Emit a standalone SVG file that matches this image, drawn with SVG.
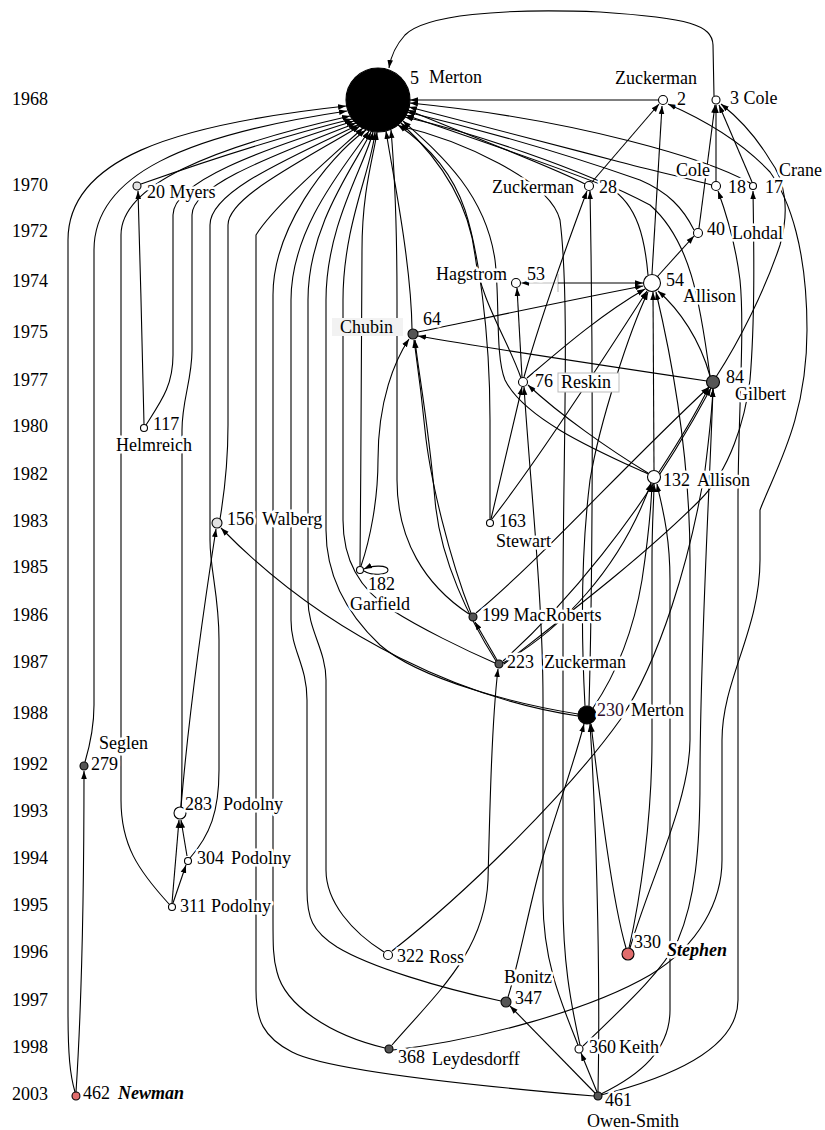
<svg xmlns="http://www.w3.org/2000/svg" width="825" height="1130" viewBox="0 0 825 1130">
<defs>
<marker id="a" viewBox="0 0 10 10" refX="10" refY="5" markerWidth="8" markerHeight="8" markerUnits="userSpaceOnUse" orient="auto"><path d="M0,1.5 L10,5 L0,8.5 z" fill="#000"/></marker>
<style>
.e{fill:none;stroke:#000;stroke-width:1.1;marker-end:url(#a)}
.g{fill:none;stroke:#bbb;stroke-width:1.1}
text{font-family:"Liberation Serif","Times New Roman",serif;font-size:18px;fill:#000}
.h{paint-order:stroke;stroke:#fff;stroke-width:5px;stroke-linejoin:round}
.bi{font-weight:bold;font-style:italic}
.n{stroke:#000;stroke-width:1.1}
.w{fill:#fff}.d{fill:#555}.l{fill:#e2e2e2}.r{fill:#e06c6c}.k{fill:#000}
</style>
</defs>
<rect width="825" height="1130" fill="#fff"/>
<g id="years">
<text x="12" y="105">1968</text><text x="12" y="191">1970</text><text x="12" y="237">1972</text><text x="12" y="287">1974</text><text x="12" y="338">1975</text><text x="12" y="386">1977</text><text x="12" y="432">1980</text><text x="12" y="480">1982</text><text x="12" y="527">1983</text><text x="12" y="573">1985</text><text x="12" y="621">1986</text><text x="12" y="668">1987</text><text x="12" y="719">1988</text><text x="12" y="770">1992</text><text x="12" y="817">1993</text><text x="12" y="864">1994</text><text x="12" y="911">1995</text><text x="12" y="958">1996</text><text x="12" y="1006">1997</text><text x="12" y="1053">1998</text><text x="12" y="1100">2003</text>
</g>
<g id="connectors">
<path class="e" d="M75,1092 C70,1075 68,1055 68,1010 L68,240 C68,160 170,125 346,106"/>
<path class="e" d="M85,762 C90,745 94,728 94,705 L94,250 C94,175 185,135 347,111"/>
<path class="e" d="M169,904 C138,870 121,845 121,800 L121,235 C121,185 210,148 350,116"/>
<path class="e" d="M141,184 C195,165 275,138 352,119"/>
<path class="e" d="M146,425 C162,400 173,385 173,355 L173,215 C173,182 260,150 354,121"/>
<path class="e" d="M181,807 C182,790 182,770 182,740 L182,430 C182,400 192,380 192,350 L192,215 C192,185 275,155 356,123"/>
<path class="e" d="M190,858 C210,835 219,812 219,770 L219,640 C219,595 210,570 210,540 L210,225 C210,192 285,160 358,125"/>
<path class="e" d="M220,519 C224,495 228,465 228,425 L228,225 C228,198 295,165 360,126"/>
<path class="e" d="M594,1096 C500,1088 330,1072 292,1052 C263,1037 256,1020 256,990 L256,235 C275,205 330,158 363,128"/>
<path class="e" d="M385,1048 C330,1035 285,1005 277,972 C273,958 273,945 273,920 L273,295 C273,230 325,160 366,130"/>
<path class="e" d="M501,1001 C440,988 370,967 337,947 C312,931 307,918 307,890 L307,700 C307,665 291,650 291,620 L291,300 C291,225 350,160 369,131"/>
<path class="e" d="M384,952 C352,932 326,902 326,870 L326,680 C326,650 308,630 308,600 L308,300 C308,225 355,165 371,132"/>
<path class="e" d="M578,714 C520,705 420,680 380,645 C345,612 326,575 326,530 L326,300 C326,225 365,165 373,132"/>
<path class="e" d="M495,663 C465,650 420,628 392,610 C360,590 343,560 343,520 L343,300 C343,225 372,168 375,132"/>
<path class="e" d="M360,566 C361,450 362,300 362,250 C362,190 374,155 377,132"/>
<path class="e" d="M412,329 C411,260 392,170 386,131"/>
<path class="e" d="M469,614 C425,585 397,540 397,480 L397,300 C397,220 394,165 391,130"/>
<path class="e" d="M490,519 L490,420 C490,330 478,250 465,210 C450,165 420,140 398,125"/>
<path class="e" d="M521,378 C508,340 480,300 475,255 C468,195 430,150 401,123"/>
<path class="e" d="M648,474 C600,452 525,420 505,380 C495,355 500,300 495,260 C485,190 435,150 403,121"/>
<path class="e" d="M710,376 C700,300 690,240 650,205 C580,168 470,132 405,117"/>
<path class="e" d="M648,275 C645,240 638,205 610,188 C545,162 465,136 406,115"/>
<path class="e" d="M694,230 C683,208 668,192 640,180 C560,152 470,127 407,112"/>
<path class="e" d="M585,184 C555,168 480,140 408,110"/>
<path class="e" d="M712,185 C690,179 650,170 620,162 C545,142 465,122 409,107"/>
<path class="e" d="M750,183 C710,160 580,120 410,103"/>
<path class="e" d="M658,100 L410,100"/>
<path class="e" d="M714,96 L713,45 C712,25 690,18 600,12 C500,8 425,15 405,35 C396,45 391,55 389,68"/>
<path class="e" d="M580,1045 C570,1000 563,960 563,900 L563,600 C563,450 570,300 560,220 C550,180 460,140 400,126"/>
<path class="e" d="M592,182 L659,104"/>
<path class="e" d="M652,274 L662,106"/>
<path class="e" d="M393,1050 C480,1040 590,1010 650,975 C700,945 722,900 722,860 L722,740 C722,680 760,630 760,560 L760,510 C775,470 807,420 807,330 C807,250 790,200 770,172 C740,140 700,118 668,104"/>
<path class="e" d="M716,377 C740,340 765,290 780,245 C790,210 785,180 770,160 C755,135 735,115 721,104"/>
<path class="e" d="M699,228 L715,105"/>
<path class="e" d="M716,181 L716,105"/>
<path class="e" d="M752,182 L719,105"/>
<path class="e" d="M657,277 L694,236"/>
<path class="g" d="M558,283 L527,283 M558,274 L558,292"/>
<path class="e" style="stroke:#bbb" d="M530,283 L521,283"/>
<path class="e" d="M558,283 L643,283"/>
<path class="e" d="M418,332 C500,315 580,298 643,286"/>
<path class="e" d="M527,378 C560,350 600,315 645,289"/>
<path class="e" d="M522,377 L517,288"/>
<path class="e" d="M524,377 C540,320 565,250 587,191"/>
<path class="e" d="M491,519 C500,480 512,430 522,387"/>
<path class="e" d="M492,519 C530,470 590,380 647,291"/>
<path class="e" d="M648,473 C610,450 560,415 528,385"/>
<path class="e" d="M654,470 L653,292"/>
<path class="e" d="M659,472 C680,440 695,415 709,387"/>
<path class="e" d="M707,381 C600,365 500,350 418,336"/>
<path class="e" d="M710,376 C700,340 680,310 658,291"/>
<path class="e" d="M471,613 C450,560 430,480 425,430 C420,380 416,355 414,340"/>
<path class="e" d="M476,613 C540,560 620,470 709,387"/>
<path class="e" d="M497,660 L475,622"/>
<path class="e" d="M496,661 C470,620 440,560 435,500 C428,420 418,370 415,340"/>
<path class="e" d="M503,661 C560,610 640,520 711,388"/>
<path class="e" d="M503,663 C560,630 620,570 651,483"/>
<path class="e" d="M504,664 C560,620 640,560 700,500 C730,470 745,420 750,380 C755,320 754,250 753,191"/>
<path class="e" d="M392,1045 C440,990 485,950 488,880 C490,800 492,720 498,669"/>
<path class="e" d="M578,716 C470,700 330,640 221,528"/>
<path class="e" d="M585,706 C582,650 580,560 590,480 C600,420 630,330 648,292"/>
<path class="e" d="M593,708 C612,680 632,640 642,580 C648,540 651,510 652,484"/>
<path class="e" d="M589,706 C592,600 594,400 590,191"/>
<path class="e" d="M364,571 C372,576 388,575 388,570 C388,565 372,565 364,569"/>
<path class="e" d="M361,566 C370,540 378,500 378,460 C378,400 395,360 409,339"/>
<path class="e" d="M392,951 C470,890 570,790 620,720 C660,660 690,560 705,470 C710,430 712,410 713,389"/>
<path class="e" d="M508,997 C520,960 530,900 545,850 C560,800 575,760 584,724"/>
<path class="e" d="M578,1045 C560,1000 543,960 543,900 L543,700 C543,600 530,480 524,387"/>
<path class="e" d="M583,1046 C620,1010 660,975 678,940 C695,900 700,850 700,780 C700,650 710,480 713,389"/>
<path class="e" d="M595,1093 L510,1006"/>
<path class="e" d="M597,1092 L581,1053"/>
<path class="e" d="M598,1092 C600,1000 598,850 590,724"/>
<path class="e" d="M601,1094 C640,1075 670,1050 670,1010 L670,580 C670,530 660,500 657,484"/>
<path class="e" d="M601,1095 C680,1075 738,1045 738,1000 L738,500 C738,420 745,330 740,280 C735,240 725,210 718,191"/>
<path class="e" d="M626,948 C612,900 600,800 591,724"/>
<path class="e" d="M629,948 C640,900 652,820 652,740 L652,560 C652,520 654,500 654,484"/>
<path class="e" d="M630,948 C650,880 690,800 690,740 L690,560 C690,440 665,330 656,292"/>
<path class="e" d="M76,1092 C82,1000 84,900 84,771"/>
<path class="e" d="M172,903 L179,820"/>
<path class="e" d="M173,903 L186,865"/>
<path class="e" d="M187,856 L181,820"/>
<path class="e" d="M181,807 C190,700 205,600 216,529"/>
<path class="e" d="M144,424 C143,370 140,260 138,191"/>
</g>
<g id="n5"><circle class="n k" cx="378" cy="100" r="32"/><text class="h" x="410" y="84">5</text><text class="h" x="429" y="83">Merton</text></g>
<g id="n2"><circle class="n w" cx="663" cy="100" r="4.5"/><text class="h" x="615" y="84">Zuckerman</text><text class="h" x="677" y="105">2</text></g>
<g id="n3"><circle class="n w" cx="716" cy="100" r="4"/><text class="h" x="730" y="104">3 Cole</text></g>
<g id="n20"><circle class="n l" cx="137" cy="186" r="4"/><text class="h" x="147" y="198">20 Myers</text></g>
<g id="n28"><circle class="n w" cx="589" cy="186" r="4.5"/><text class="h" x="492" y="193">Zuckerman</text><text class="h" x="599" y="193">28</text></g>
<g id="n18"><circle class="n w" cx="716" cy="186" r="4.5"/><text class="h" x="676" y="176">Cole</text><text class="h" x="728" y="193">18</text></g>
<g id="n17"><circle class="n w" cx="753" cy="186" r="3.5"/><text class="h" x="765" y="193">17</text><text class="h" x="779" y="176">Crane</text></g>
<g id="n40"><circle class="n w" cx="698" cy="233" r="4.5"/><text class="h" x="707" y="235">40</text><text class="h" x="732" y="239">Lohdal</text></g>
<g id="n53"><circle class="n w" cx="516" cy="283" r="4.5"/><text class="h" x="436" y="280">Hagstrom</text><text class="h" x="527" y="280">53</text></g>
<g id="n54"><circle class="n w" cx="652" cy="283" r="8.5"/><text class="h" x="666" y="286">54</text><text class="h" x="683" y="302">Allison</text></g>
<g id="n64"><rect x="332" y="318" width="71" height="18" fill="#f2f2f2"/><text x="340" y="333">Chubin</text><circle class="n d" cx="413" cy="334" r="5"/><text class="h" x="423" y="325">64</text></g>
<g id="n76"><circle class="n w" cx="523" cy="382" r="4.5"/><text class="h" x="535" y="387">76</text><rect x="558" y="373" width="61" height="19" fill="#fff" stroke="#bbb"/><text x="561" y="388">Reskin</text></g>
<g id="n84"><circle class="n d" cx="713" cy="382" r="6.5"/><text class="h" x="726" y="383">84</text><text class="h" x="735" y="400">Gilbert</text></g>
<g id="n117"><circle class="n w" cx="144" cy="428" r="3.5"/><text class="h" x="153" y="430">117</text><text class="h" x="116" y="451">Helmreich</text></g>
<g id="n132"><circle class="n w" cx="654" cy="477" r="6.5"/><text class="h" x="663" y="486">132</text><text class="h" x="697" y="486">Allison</text></g>
<g id="n156"><circle class="n l" cx="217" cy="523" r="5"/><text class="h" x="227" y="525">156</text><text class="h" x="262" y="525">Walberg</text></g>
<g id="n163"><circle class="n w" cx="490" cy="523" r="3.5"/><text class="h" x="499" y="527">163</text><text class="h" x="496" y="547">Stewart</text></g>
<g id="n182"><circle class="n w" cx="360" cy="570" r="3.5"/><text class="h" x="368" y="590">182</text><text class="h" x="350" y="610">Garfield</text></g>
<g id="n199"><circle class="n d" cx="473" cy="617" r="4"/><text class="h" x="482" y="621">199 MacRoberts</text></g>
<g id="n223"><circle class="n d" cx="499" cy="664" r="4"/><text class="h" x="507" y="668">223</text><text class="h" x="544" y="668">Zuckerman</text></g>
<g id="n230"><circle class="n k" cx="587" cy="715" r="9"/><text class="h" x="597" y="716" style="fill:#301030">230</text><text class="h" x="631" y="716">Merton</text></g>
<g id="n279"><circle class="n d" cx="84" cy="766" r="4"/><text class="h" x="99" y="749">Seglen</text><text class="h" x="91" y="770">279</text></g>
<g id="n283"><circle class="n w" cx="180" cy="813" r="6"/><text class="h" x="185" y="810">283</text><text class="h" x="223" y="810">Podolny</text></g>
<g id="n304"><circle class="n w" cx="188" cy="861" r="3.5"/><text class="h" x="197" y="864">304</text><text class="h" x="231" y="864">Podolny</text></g>
<g id="n311"><circle class="n w" cx="172" cy="907" r="3.5"/><text class="h" x="180" y="912">311</text><text class="h" x="211" y="912">Podolny</text></g>
<g id="n322"><circle class="n w" cx="388" cy="955" r="4.5"/><text class="h" x="397" y="962">322</text><text class="h" x="429" y="963">Ross</text></g>
<g id="n330"><circle class="n r" cx="628" cy="954" r="6"/><text class="h" x="634" y="948">330</text><text class="h bi" x="667" y="956">Stephen</text></g>
<g id="n347"><circle class="n d" cx="506" cy="1002" r="5"/><text class="h" x="504" y="983">Bonitz</text><text class="h" x="515" y="1004">347</text></g>
<g id="n360"><circle class="n w" cx="579" cy="1049" r="4"/><text class="h" x="589" y="1053">360</text><text class="h" x="619" y="1053">Keith</text></g>
<g id="n368"><circle class="n d" cx="389" cy="1049" r="4"/><text class="h" x="398" y="1063">368</text><text class="h" x="432" y="1065">Leydesdorff</text></g>
<g id="n461"><circle class="n d" cx="598" cy="1096" r="4"/><text class="h" x="605" y="1106">461</text><text class="h" x="587" y="1127">Owen-Smith</text></g>
<g id="n462"><circle class="n r" cx="76" cy="1096" r="4"/><text class="h" x="83" y="1099">462</text><text class="h bi" x="118" y="1099">Newman</text></g>
</svg>
